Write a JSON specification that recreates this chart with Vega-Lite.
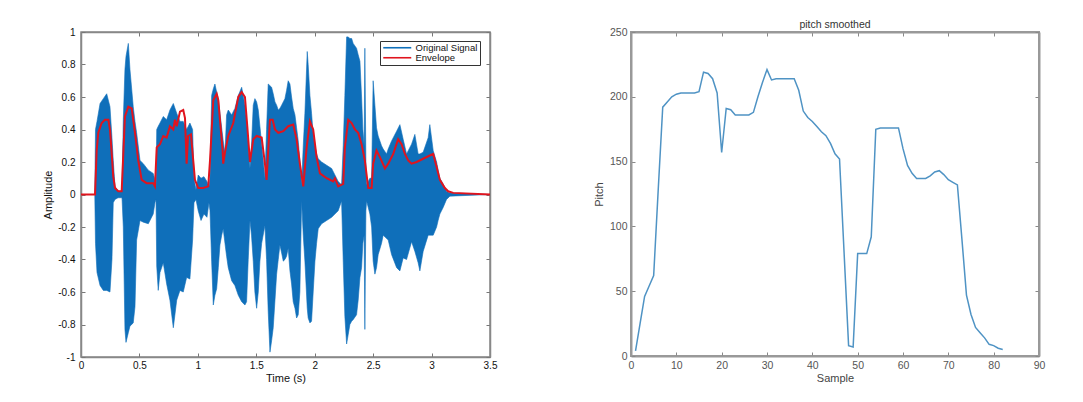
{
  "$schema": "https://vega.github.io/schema/vega-lite/v6.json",
  "padding": {"left": 42, "top": 18, "right": 5, "bottom": 5},
  "bounds": "flush",
  "spacing": 141,
  "config": {
    "font": "Liberation Sans",
    "axis": {"grid": false, "titleFontWeight": "normal", "labelFont": "Liberation Sans", "titleFont": "Liberation Sans", "labelFlush": false, "labelOverlap": false},
    "legend": {"labelFont": "Liberation Sans"}
  },
  "datasets": {
    "signal": [
      {"t":0,"hi":0,"lo":0},{"t":0.118,"hi":0,"lo":0},{"t":0.124,"hi":0.40,"lo":-0.30},{"t":0.137,"hi":0.45,"lo":-0.48},{"t":0.163,"hi":0.56,"lo":-0.56},{"t":0.191,"hi":0.59,"lo":-0.59},{"t":0.220,"hi":0.62,"lo":-0.59},{"t":0.248,"hi":0.54,"lo":-0.60},{"t":0.265,"hi":0.35,"lo":-0.40},{"t":0.276,"hi":0.21,"lo":-0.05},{"t":0.291,"hi":0.05,"lo":-0.03},{"t":0.317,"hi":0.02,"lo":-0.02},{"t":0.351,"hi":0.02,"lo":-0.02},{"t":0.362,"hi":0.46,"lo":-0.20},{"t":0.376,"hi":0.77,"lo":-0.83},{"t":0.385,"hi":0.85,"lo":-0.91},{"t":0.405,"hi":0.93,"lo":-0.85},{"t":0.419,"hi":0.77,"lo":-0.81},{"t":0.447,"hi":0.54,"lo":-0.79},{"t":0.462,"hi":0.45,"lo":-0.69},{"t":0.476,"hi":0.38,"lo":-0.28},{"t":0.505,"hi":0.21,"lo":-0.16},{"t":0.533,"hi":0.19,"lo":-0.17},{"t":0.576,"hi":0.15,"lo":-0.18},{"t":0.618,"hi":0.13,"lo":-0.12},{"t":0.633,"hi":0.09,"lo":-0.05},{"t":0.642,"hi":0.05,"lo":-0.03},{"t":0.648,"hi":0.40,"lo":-0.44},{"t":0.661,"hi":0.42,"lo":-0.59},{"t":0.676,"hi":0.44,"lo":-0.48},{"t":0.704,"hi":0.48,"lo":-0.42},{"t":0.733,"hi":0.46,"lo":-0.55},{"t":0.761,"hi":0.52,"lo":-0.65},{"t":0.790,"hi":0.56,"lo":-0.82},{"t":0.819,"hi":0.50,"lo":-0.65},{"t":0.847,"hi":0.45,"lo":-0.59},{"t":0.875,"hi":0.45,"lo":-0.60},{"t":0.904,"hi":0.40,"lo":-0.51},{"t":0.932,"hi":0.44,"lo":-0.52},{"t":0.955,"hi":0.40,"lo":-0.28},{"t":0.967,"hi":0.10,"lo":-0.05},{"t":0.984,"hi":0.03,"lo":-0.03},{"t":1.003,"hi":0.12,"lo":-0.10},{"t":1.027,"hi":0.10,"lo":-0.16},{"t":1.052,"hi":0.11,"lo":-0.12},{"t":1.078,"hi":0.08,"lo":-0.14},{"t":1.095,"hi":0.05,"lo":-0.05},{"t":1.104,"hi":0.10,"lo":-0.10},{"t":1.118,"hi":0.61,"lo":-0.41},{"t":1.132,"hi":0.65,"lo":-0.68},{"t":1.146,"hi":0.68,"lo":-0.62},{"t":1.161,"hi":0.63,"lo":-0.58},{"t":1.175,"hi":0.59,"lo":-0.45},{"t":1.189,"hi":0.50,"lo":-0.31},{"t":1.204,"hi":0.41,"lo":-0.25},{"t":1.217,"hi":0.33,"lo":-0.21},{"t":1.232,"hi":0.25,"lo":-0.30},{"t":1.246,"hi":0.49,"lo":-0.38},{"t":1.260,"hi":0.52,"lo":-0.45},{"t":1.289,"hi":0.49,"lo":-0.53},{"t":1.317,"hi":0.53,"lo":-0.56},{"t":1.346,"hi":0.61,"lo":-0.62},{"t":1.375,"hi":0.66,"lo":-0.66},{"t":1.403,"hi":0.55,"lo":-0.68},{"t":1.417,"hi":0.45,"lo":-0.66},{"t":1.431,"hi":0.31,"lo":-0.40},{"t":1.446,"hi":0.16,"lo":-0.16},{"t":1.459,"hi":0.30,"lo":-0.25},{"t":1.474,"hi":0.55,"lo":-0.41},{"t":1.488,"hi":0.59,"lo":-0.60},{"t":1.503,"hi":0.57,"lo":-0.70},{"t":1.517,"hi":0.52,"lo":-0.60},{"t":1.531,"hi":0.42,"lo":-0.41},{"t":1.546,"hi":0.31,"lo":-0.30},{"t":1.574,"hi":0.10,"lo":-0.19},{"t":1.588,"hi":0.40,"lo":-0.40},{"t":1.602,"hi":0.68,"lo":-0.72},{"t":1.617,"hi":0.67,"lo":-0.97},{"t":1.631,"hi":0.66,"lo":-0.90},{"t":1.645,"hi":0.62,"lo":-0.82},{"t":1.660,"hi":0.57,"lo":-0.65},{"t":1.674,"hi":0.55,"lo":-0.49},{"t":1.688,"hi":0.52,"lo":-0.40},{"t":1.702,"hi":0.53,"lo":-0.31},{"t":1.717,"hi":0.55,"lo":-0.36},{"t":1.731,"hi":0.57,"lo":-0.41},{"t":1.745,"hi":0.59,"lo":-0.40},{"t":1.759,"hi":0.64,"lo":-0.38},{"t":1.773,"hi":0.70,"lo":-0.33},{"t":1.788,"hi":0.68,"lo":-0.47},{"t":1.802,"hi":0.60,"lo":-0.55},{"t":1.816,"hi":0.53,"lo":-0.66},{"t":1.831,"hi":0.49,"lo":-0.70},{"t":1.845,"hi":0.41,"lo":-0.76},{"t":1.859,"hi":0.33,"lo":-0.74},{"t":1.873,"hi":0.21,"lo":-0.60},{"t":1.888,"hi":0.06,"lo":-0.04},{"t":1.902,"hi":0.30,"lo":-0.25},{"t":1.916,"hi":0.50,"lo":-0.41},{"t":1.936,"hi":0.88,"lo":-0.70},{"t":1.944,"hi":0.80,"lo":-0.76},{"t":1.959,"hi":0.61,"lo":-0.79},{"t":1.973,"hi":0.50,"lo":-0.78},{"t":1.987,"hi":0.37,"lo":-0.60},{"t":2.002,"hi":0.30,"lo":-0.41},{"t":2.016,"hi":0.25,"lo":-0.30},{"t":2.030,"hi":0.22,"lo":-0.21},{"t":2.059,"hi":0.20,"lo":-0.18},{"t":2.102,"hi":0.18,"lo":-0.16},{"t":2.145,"hi":0.16,"lo":-0.14},{"t":2.173,"hi":0.12,"lo":-0.12},{"t":2.201,"hi":0.08,"lo":-0.10},{"t":2.230,"hi":0.06,"lo":-0.04},{"t":2.244,"hi":0.30,"lo":-0.41},{"t":2.258,"hi":0.61,"lo":-0.75},{"t":2.273,"hi":0.97,"lo":-0.92},{"t":2.287,"hi":0.97,"lo":-0.86},{"t":2.301,"hi":0.96,"lo":-0.80},{"t":2.316,"hi":0.96,"lo":-0.78},{"t":2.329,"hi":0.93,"lo":-0.77},{"t":2.358,"hi":0.90,"lo":-0.74},{"t":2.372,"hi":0.86,"lo":-0.65},{"t":2.387,"hi":0.82,"lo":-0.51},{"t":2.401,"hi":0.60,"lo":-0.45},{"t":2.412,"hi":0.40,"lo":-0.30},{"t":2.423,"hi":0.30,"lo":-0.25},{"t":2.429,"hi":0.90,"lo":-0.83},{"t":2.438,"hi":0.20,"lo":-0.10},{"t":2.444,"hi":0.06,"lo":-0.04},{"t":2.472,"hi":0.10,"lo":-0.12},{"t":2.487,"hi":0.10,"lo":-0.20},{"t":2.500,"hi":0.70,"lo":-0.41},{"t":2.515,"hi":0.55,"lo":-0.49},{"t":2.529,"hi":0.41,"lo":-0.45},{"t":2.543,"hi":0.36,"lo":-0.37},{"t":2.572,"hi":0.30,"lo":-0.30},{"t":2.586,"hi":0.28,"lo":-0.25},{"t":2.615,"hi":0.25,"lo":-0.27},{"t":2.629,"hi":0.28,"lo":-0.28},{"t":2.658,"hi":0.33,"lo":-0.37},{"t":2.701,"hi":0.39,"lo":-0.45},{"t":2.729,"hi":0.43,"lo":-0.47},{"t":2.757,"hi":0.34,"lo":-0.39},{"t":2.786,"hi":0.25,"lo":-0.40},{"t":2.829,"hi":0.31,"lo":-0.29},{"t":2.857,"hi":0.37,"lo":-0.35},{"t":2.885,"hi":0.25,"lo":-0.42},{"t":2.900,"hi":0.25,"lo":-0.47},{"t":2.928,"hi":0.26,"lo":-0.35},{"t":2.971,"hi":0.35,"lo":-0.25},{"t":2.985,"hi":0.43,"lo":-0.25},{"t":3.014,"hi":0.27,"lo":-0.25},{"t":3.043,"hi":0.20,"lo":-0.20},{"t":3.056,"hi":0.15,"lo":-0.16},{"t":3.071,"hi":0.10,"lo":-0.12},{"t":3.099,"hi":0.065,"lo":-0.08},{"t":3.128,"hi":0.02,"lo":-0.03},{"t":3.157,"hi":0.01,"lo":-0.01},{"t":3.5,"hi":0,"lo":0}
    ],
    "envelope": [
      {"t":0,"env":0},{"t":0.120,"env":0},{"t":0.134,"env":0.27},{"t":0.148,"env":0.38},{"t":0.177,"env":0.44},{"t":0.205,"env":0.46},{"t":0.234,"env":0.46},{"t":0.248,"env":0.40},{"t":0.263,"env":0.25},{"t":0.276,"env":0.11},{"t":0.291,"env":0.04},{"t":0.319,"env":0.02},{"t":0.348,"env":0.02},{"t":0.362,"env":0.25},{"t":0.376,"env":0.48},{"t":0.405,"env":0.54},{"t":0.434,"env":0.53},{"t":0.447,"env":0.46},{"t":0.462,"env":0.38},{"t":0.490,"env":0.21},{"t":0.519,"env":0.09},{"t":0.562,"env":0.07},{"t":0.618,"env":0.07},{"t":0.633,"env":0.05},{"t":0.648,"env":0.29},{"t":0.676,"env":0.31},{"t":0.704,"env":0.36},{"t":0.733,"env":0.35},{"t":0.761,"env":0.42},{"t":0.790,"env":0.40},{"t":0.804,"env":0.46},{"t":0.819,"env":0.42},{"t":0.847,"env":0.51},{"t":0.875,"env":0.52},{"t":0.890,"env":0.47},{"t":0.904,"env":0.19},{"t":0.916,"env":0.36},{"t":0.941,"env":0.37},{"t":0.975,"env":0.09},{"t":1.003,"env":0.04},{"t":1.046,"env":0.04},{"t":1.089,"env":0.05},{"t":1.104,"env":0.21},{"t":1.132,"env":0.58},{"t":1.161,"env":0.62},{"t":1.175,"env":0.58},{"t":1.189,"env":0.46},{"t":1.212,"env":0.27},{"t":1.217,"env":0.19},{"t":1.232,"env":0.26},{"t":1.260,"env":0.36},{"t":1.303,"env":0.44},{"t":1.346,"env":0.60},{"t":1.375,"env":0.63},{"t":1.403,"env":0.60},{"t":1.423,"env":0.42},{"t":1.446,"env":0.20},{"t":1.474,"env":0.34},{"t":1.503,"env":0.36},{"t":1.546,"env":0.35},{"t":1.574,"env":0.19},{"t":1.588,"env":0.09},{"t":1.617,"env":0.46},{"t":1.640,"env":0.46},{"t":1.660,"env":0.40},{"t":1.688,"env":0.38},{"t":1.731,"env":0.39},{"t":1.773,"env":0.42},{"t":1.816,"env":0.43},{"t":1.845,"env":0.34},{"t":1.873,"env":0.19},{"t":1.902,"env":0.05},{"t":1.931,"env":0.29},{"t":1.959,"env":0.45},{"t":1.987,"env":0.40},{"t":2.016,"env":0.23},{"t":2.045,"env":0.13},{"t":2.102,"env":0.10},{"t":2.158,"env":0.08},{"t":2.173,"env":0.10},{"t":2.201,"env":0.05},{"t":2.244,"env":0.065},{"t":2.258,"env":0.29},{"t":2.287,"env":0.46},{"t":2.316,"env":0.44},{"t":2.344,"env":0.40},{"t":2.372,"env":0.38},{"t":2.401,"env":0.31},{"t":2.429,"env":0.21},{"t":2.458,"env":0.04},{"t":2.487,"env":0.04},{"t":2.500,"env":0.19},{"t":2.529,"env":0.27},{"t":2.558,"env":0.23},{"t":2.601,"env":0.16},{"t":2.629,"env":0.19},{"t":2.672,"env":0.25},{"t":2.714,"env":0.34},{"t":2.743,"env":0.31},{"t":2.772,"env":0.25},{"t":2.800,"env":0.21},{"t":2.829,"env":0.19},{"t":2.872,"env":0.20},{"t":2.928,"env":0.22},{"t":2.985,"env":0.24},{"t":3.014,"env":0.25},{"t":3.043,"env":0.17},{"t":3.071,"env":0.09},{"t":3.114,"env":0.04},{"t":3.142,"env":0.02},{"t":3.185,"env":0.01},{"t":3.5,"env":0}
    ],
    "pitch": [
      {"sample":1,"pitch":4},{"sample":2,"pitch":25},{"sample":3,"pitch":46},{"sample":4,"pitch":54},{"sample":5,"pitch":62},{"sample":6,"pitch":128},{"sample":7,"pitch":192},{"sample":8,"pitch":196},{"sample":9,"pitch":200},{"sample":10,"pitch":202},{"sample":11,"pitch":203},{"sample":12,"pitch":203},{"sample":13,"pitch":203},{"sample":14,"pitch":203},{"sample":15,"pitch":204},{"sample":16,"pitch":219},{"sample":17,"pitch":218},{"sample":18,"pitch":214},{"sample":19,"pitch":203},{"sample":20,"pitch":157},{"sample":21,"pitch":191},{"sample":22,"pitch":190},{"sample":23,"pitch":186},{"sample":24,"pitch":186},{"sample":25,"pitch":186},{"sample":26,"pitch":186},{"sample":27,"pitch":188},{"sample":28,"pitch":200},{"sample":29,"pitch":211},{"sample":30,"pitch":221},{"sample":31,"pitch":213},{"sample":32,"pitch":214},{"sample":33,"pitch":214},{"sample":34,"pitch":214},{"sample":35,"pitch":214},{"sample":36,"pitch":214},{"sample":37,"pitch":205},{"sample":38,"pitch":189},{"sample":39,"pitch":184},{"sample":40,"pitch":181},{"sample":41,"pitch":177},{"sample":42,"pitch":173},{"sample":43,"pitch":170},{"sample":44,"pitch":164},{"sample":45,"pitch":156},{"sample":46,"pitch":152},{"sample":47,"pitch":80},{"sample":48,"pitch":8},{"sample":49,"pitch":7},{"sample":50,"pitch":79},{"sample":51,"pitch":79},{"sample":52,"pitch":79},{"sample":53,"pitch":92},{"sample":54,"pitch":175},{"sample":55,"pitch":176},{"sample":56,"pitch":176},{"sample":57,"pitch":176},{"sample":58,"pitch":176},{"sample":59,"pitch":176},{"sample":60,"pitch":160},{"sample":61,"pitch":147},{"sample":62,"pitch":141},{"sample":63,"pitch":137},{"sample":64,"pitch":137},{"sample":65,"pitch":137},{"sample":66,"pitch":139},{"sample":67,"pitch":142},{"sample":68,"pitch":143},{"sample":69,"pitch":140},{"sample":70,"pitch":136},{"sample":71,"pitch":134},{"sample":72,"pitch":132},{"sample":73,"pitch":90},{"sample":74,"pitch":47},{"sample":75,"pitch":32},{"sample":76,"pitch":22},{"sample":77,"pitch":18},{"sample":78,"pitch":14},{"sample":79,"pitch":9},{"sample":80,"pitch":8},{"sample":81,"pitch":6},{"sample":82,"pitch":5}
    ]
  },
  "hconcat": [
    {
      "width": 409,
      "height": 325,
      "view": {"stroke": "#888", "strokeWidth": 1.5},
      "layer": [
        {
          "data": {"name": "signal"},
          "mark": {"type": "area", "fill": "#0f6fba", "fillOpacity": 1, "strokeWidth": 0.6},
          "encoding": {
            "x": {"field": "t", "type": "quantitative", "scale": {"domain": [0, 3.5], "nice": false},
              "axis": {"orient": "bottom", "values": [0,0.5,1,1.5,2,2.5,3,3.5], "labelExpr": "'' + datum.value", "title": "Time (s)", "titleFontSize": 11, "titleColor": "#111", "titlePadding": 2, "labelFontSize": 10, "labelColor": "#111", "labelPadding": 7, "tickSize": -4, "tickColor": "#777", "domainColor": "#888", "domainWidth": 1.5}},
            "y": {"field": "hi", "type": "quantitative", "scale": {"domain": [-1, 1], "nice": false},
              "axis": {"orient": "left", "values": [-1,-0.8,-0.6,-0.4,-0.2,0,0.2,0.4,0.6,0.8,1], "labelExpr": "'' + datum.value", "title": "Amplitude", "titleFontSize": 11, "titleColor": "#111", "titlePadding": 4, "labelFontSize": 10, "labelColor": "#111", "labelPadding": 10, "tickSize": -4, "tickColor": "#777", "domainColor": "#888", "domainWidth": 1.5}},
            "y2": {"field": "lo"},
            "stroke": {"datum": "Original Signal", "type": "nominal",
              "scale": {"domain": ["Original Signal", "Envelope"], "range": ["#0f6fba", "#e0141e"]},
              "legend": {"orient": "none", "legendX": 299, "legendY": 9, "direction": "vertical", "title": null, "symbolType": "M-1,0H7", "symbolSize": 49, "symbolStrokeWidth": 1.6, "labelFontSize": 9.5, "labelColor": "#111", "labelOffset": 24, "rowPadding": -3, "padding": 2, "strokeColor": "#333", "fillColor": "#ffffff"}}
          }
        },
        {
          "data": {"name": "envelope"},
          "mark": {"type": "line", "strokeWidth": 2},
          "encoding": {
            "x": {"field": "t", "type": "quantitative", "axis": null},
            "y": {"field": "env", "type": "quantitative", "axis": null},
            "stroke": {"datum": "Envelope", "type": "nominal"}
          }
        },
        {
          "data": {"name": "envelope"},
          "mark": {"type": "point", "opacity": 0},
          "encoding": {
            "x": {"field": "t", "type": "quantitative", "axis": {"orient": "top", "values": [0,0.5,1,1.5,2,2.5,3,3.5], "labels": false, "title": null, "tickSize": -4, "tickColor": "#777", "domainColor": "#888", "domainWidth": 1.5}},
            "y": {"field": "env", "type": "quantitative", "axis": {"orient": "right", "values": [-1,-0.8,-0.6,-0.4,-0.2,0,0.2,0.4,0.6,0.8,1], "labels": false, "title": null, "tickSize": -4, "tickColor": "#777", "domainColor": "#888", "domainWidth": 1.5}}
          }
        }
      ],
      "resolve": {"axis": {"x": "independent", "y": "independent"}}
    },
    {
      "width": 408,
      "height": 324,
      "view": {"stroke": "#999", "strokeWidth": 2},
      "title": {"text": "pitch smoothed", "fontSize": 10.5, "fontWeight": "normal", "font": "Liberation Sans", "color": "#333", "offset": -3},
      "layer": [
        {
          "data": {"name": "pitch"},
          "mark": {"type": "line", "stroke": "#4f93c4", "strokeWidth": 1.5},
          "encoding": {
            "x": {"field": "sample", "type": "quantitative", "scale": {"domain": [0, 90], "nice": false},
              "axis": {"orient": "bottom", "values": [0,10,20,30,40,50,60,70,80,90], "title": "Sample", "titleFontSize": 11, "titleColor": "#444", "titlePadding": 2, "labelFontSize": 10.5, "labelColor": "#555", "labelPadding": 8, "tickSize": -4, "tickColor": "#888", "domainColor": "#999", "domainWidth": 2}},
            "y": {"field": "pitch", "type": "quantitative", "scale": {"domain": [0, 250], "nice": false},
              "axis": {"orient": "left", "values": [0,50,100,150,200,250], "title": "Pitch", "titleFontSize": 11, "titleColor": "#444", "titlePadding": 5, "labelFontSize": 10.5, "labelColor": "#555", "labelPadding": 8, "tickSize": -4, "tickColor": "#888", "domainColor": "#999", "domainWidth": 2}}
          }
        },
        {
          "data": {"name": "pitch"},
          "mark": {"type": "point", "opacity": 0},
          "encoding": {
            "x": {"field": "sample", "type": "quantitative", "axis": {"orient": "top", "values": [0,10,20,30,40,50,60,70,80,90], "labels": false, "title": null, "tickSize": -4, "tickColor": "#888", "domainColor": "#999", "domainWidth": 2}},
            "y": {"field": "pitch", "type": "quantitative", "axis": {"orient": "right", "values": [0,50,100,150,200,250], "labels": false, "title": null, "tickSize": -4, "tickColor": "#888", "domainColor": "#999", "domainWidth": 2}}
          }
        }
      ],
      "resolve": {"axis": {"x": "independent", "y": "independent"}}
    }
  ]
}
